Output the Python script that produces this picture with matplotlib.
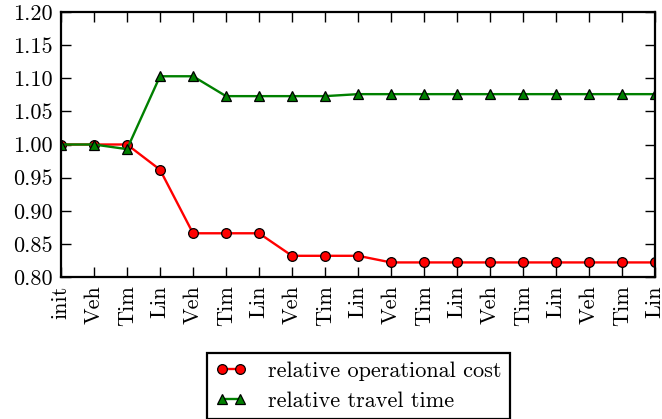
import numpy as np
import matplotlib
matplotlib.use("Agg")
import matplotlib.pyplot as plt

plt.rcParams['font.family'] = ['cmr10', 'DejaVu Serif']
plt.rcParams['mathtext.fontset'] = 'cm'
plt.rcParams['axes.formatter.use_mathtext'] = True
plt.rcParams['font.size'] = 16

steps = ["init"] + ["Veh", "Tim", "Lin"] * 6
op_cost = [1.0, 1.0, 1.0, 0.962, 0.866, 0.866, 0.866, 0.832, 0.832, 0.832,
           0.822, 0.822, 0.822, 0.822, 0.822, 0.822, 0.822, 0.822, 0.822]
travel_time = [1.0, 1.0, 0.993, 1.103, 1.103, 1.073, 1.073, 1.073, 1.073, 1.076,
               1.076, 1.076, 1.076, 1.076, 1.076, 1.076, 1.076, 1.076, 1.076]
yticks = [0.80, 0.85, 0.90, 0.95, 1.00, 1.05, 1.10, 1.15, 1.20]

fig = plt.figure(figsize=(6.62, 4.19), dpi=100)
ax = fig.add_axes([61/662, 1-277/419, (655-61)/662, (277-12)/419])

x = np.arange(len(steps))
ax.plot(x, op_cost, color='r', marker='o', markersize=7, markeredgecolor='k',
        markeredgewidth=0.9, linewidth=1.7, label="relative operational cost")
ax.plot(x, travel_time, color='g', marker='^', markersize=7, markeredgecolor='k',
        markeredgewidth=0.9, linewidth=1.7, label="relative travel time")

ax.set_xlim(0, len(steps)-1)
ax.set_ylim(0.80, 1.20)
ax.set_xticks(x)
ax.set_xticklabels(steps, rotation=90)
ax.set_yticks(yticks)
ax.set_yticklabels(["%.2f" % v for v in yticks])
ax.tick_params(direction='in', top=True, right=True, length=7, width=1, pad=6)
for s in ax.spines.values():
    s.set_linewidth(1.6)

leg = fig.legend(loc='upper center', bbox_to_anchor=(358.5/662, 1-353/419),
                 fancybox=False, edgecolor='k', framealpha=1, borderpad=0.38,
                 numpoints=2, handlelength=1.4, handletextpad=1.0,
                 labelspacing=0.45, borderaxespad=0)
leg.get_frame().set_linewidth(1.6)

plt.savefig('out.png', dpi=100)
